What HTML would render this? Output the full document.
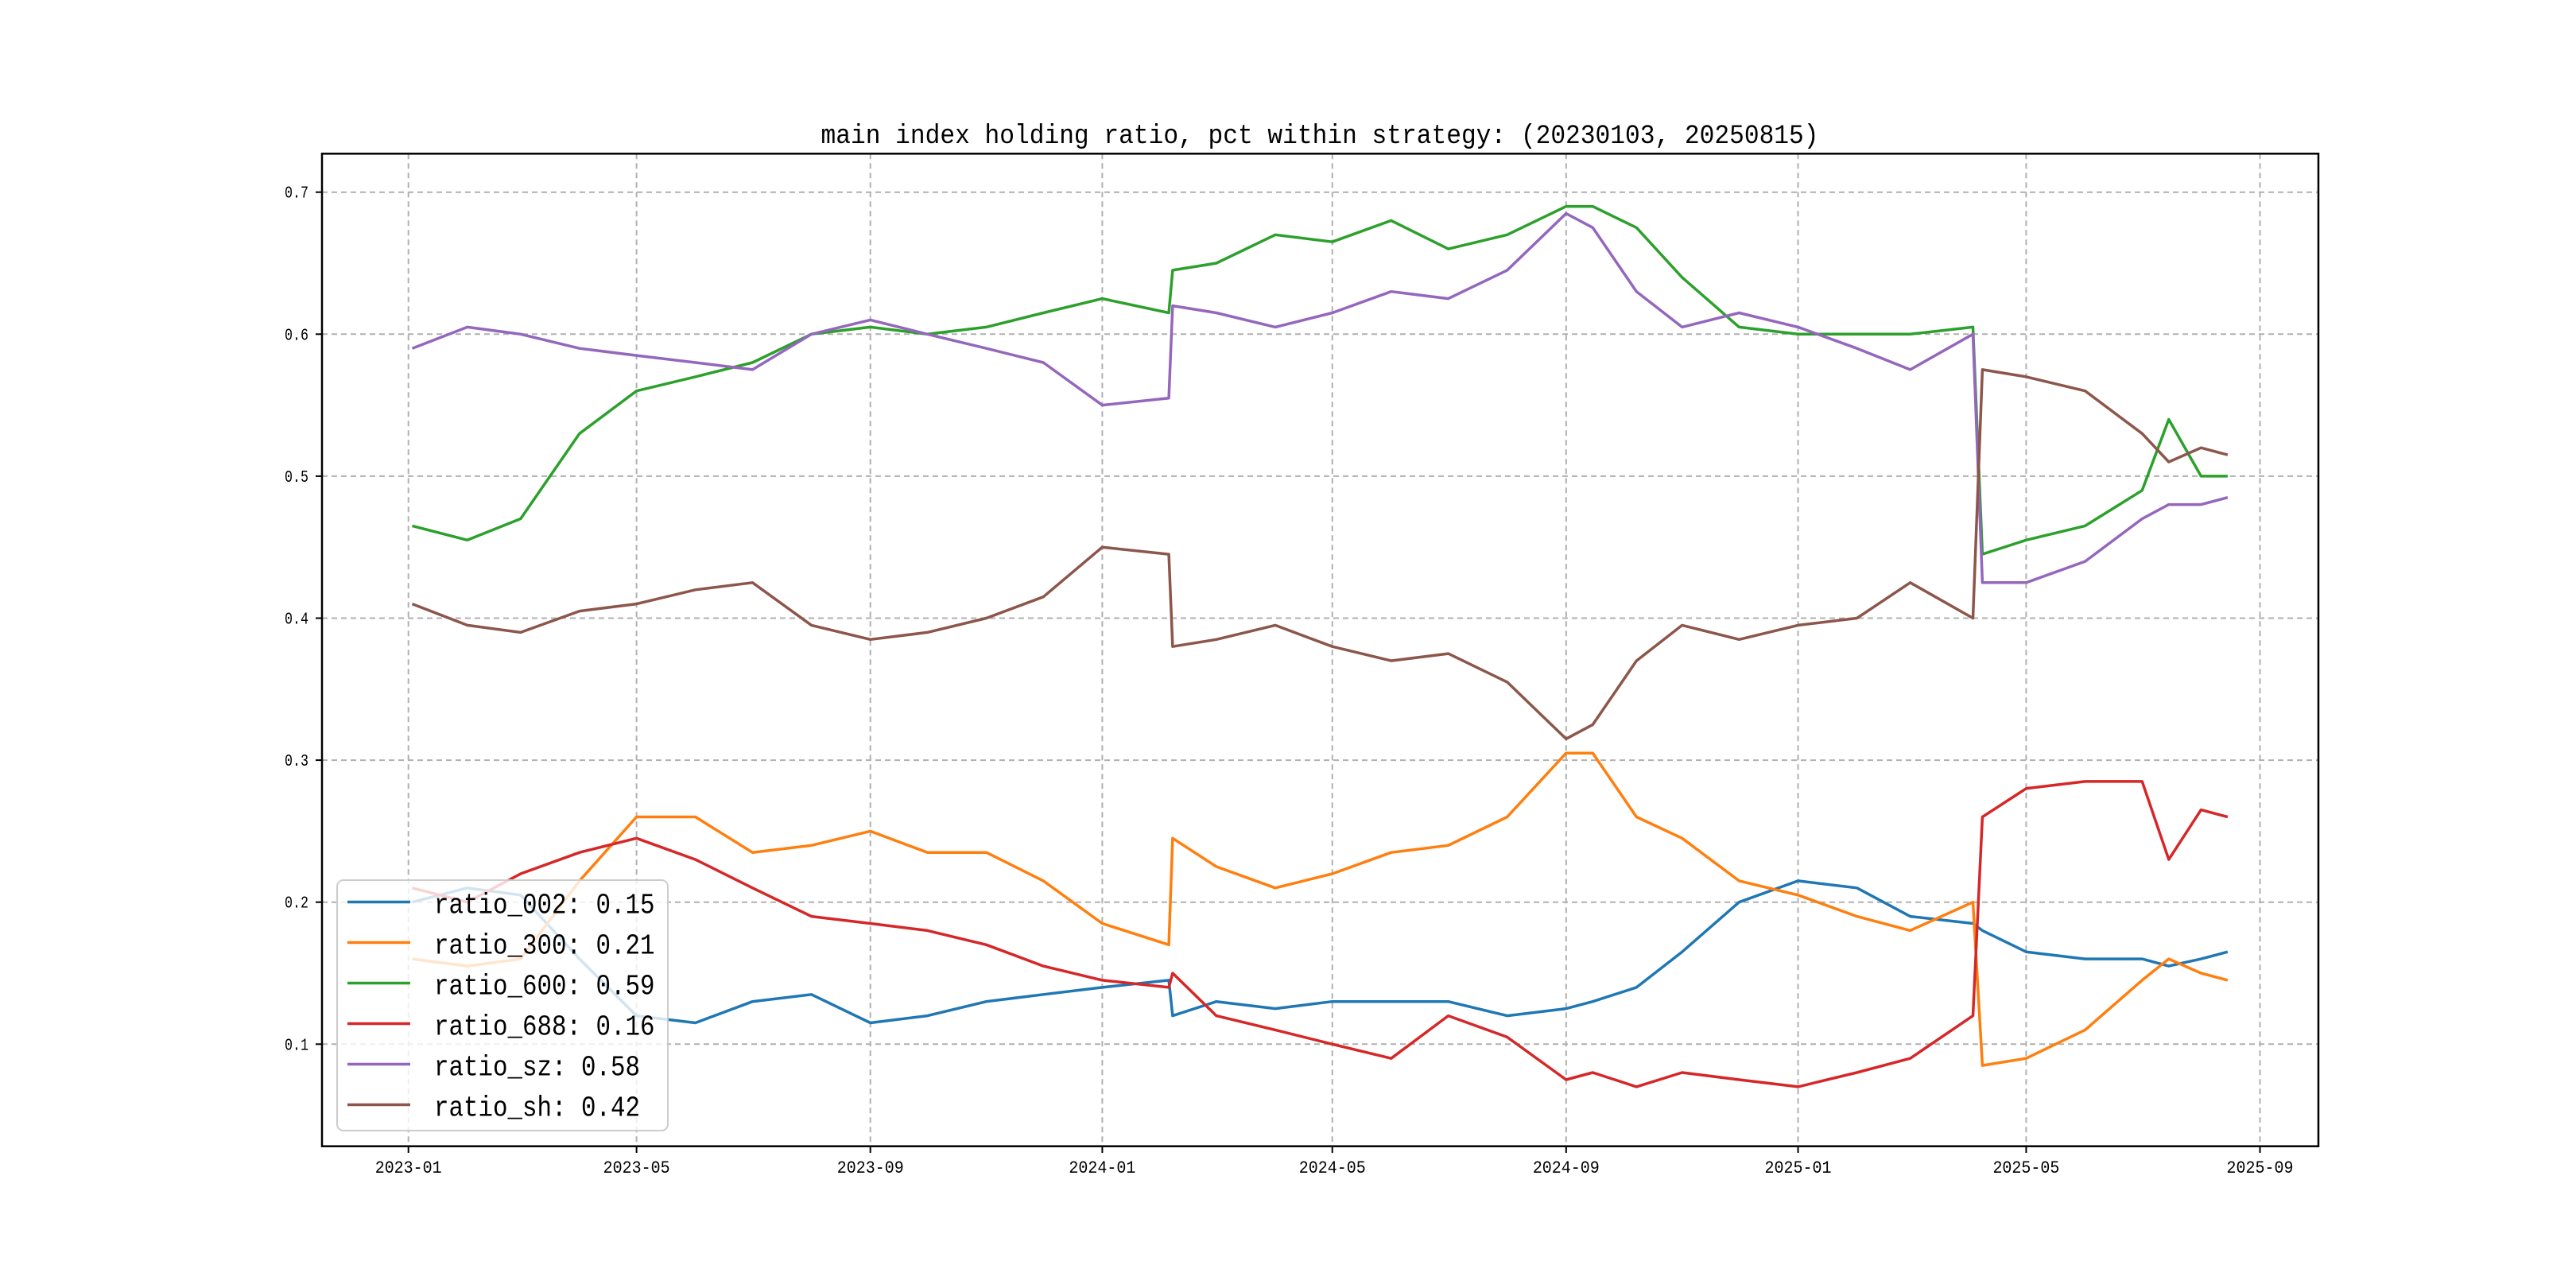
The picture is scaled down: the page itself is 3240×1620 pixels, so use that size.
<!DOCTYPE html>
<html><head><meta charset="utf-8">
<style>
html,body{margin:0;padding:0;background:#fff;}
svg{display:block;}
text{font-family:"Liberation Mono","DejaVu Sans Mono",monospace;}
</style></head>
<body>
<svg id="chart" width="3240" height="1620" viewBox="0 0 3240 1620" xmlns="http://www.w3.org/2000/svg">
<rect x="0" y="0" width="3240" height="1620" fill="#fff"/>
<text x="1660" y="180" text-anchor="middle" font-size="34" textLength="1255" lengthAdjust="spacingAndGlyphs">main index holding ratio, pct within strategy: (20230103, 20250815)</text>
<g id="grid"></g>
<g id="series"></g>
<rect x="405" y="193.3" width="2511" height="1248.4" fill="none" stroke="#000" stroke-width="2.5"/>
<g id="ticks"></g>
<g id="legend"></g>
</svg>
<script>
const dates = ["2023-01-03","2023-02-01","2023-03-01","2023-04-01","2023-05-01","2023-06-01","2023-07-01","2023-08-01","2023-09-01","2023-10-01","2023-11-01","2023-12-01","2024-01-01","2024-02-05","2024-02-07","2024-03-01","2024-04-01","2024-05-01","2024-06-01","2024-07-01","2024-08-01","2024-09-01","2024-09-15","2024-10-08","2024-11-01","2024-12-01","2025-01-01","2025-02-01","2025-03-01","2025-04-03","2025-04-08","2025-05-01","2025-06-01","2025-07-01","2025-07-15","2025-08-01","2025-08-15"];
const ratio002 = [0.20,0.21,0.205,0.16,0.12,0.115,0.13,0.135,0.115,0.12,0.13,0.135,0.14,0.145,0.12,0.13,0.125,0.13,0.13,0.13,0.12,0.125,0.13,0.14,0.165,0.20,0.215,0.21,0.19,0.185,0.18,0.165,0.16,0.16,0.155,0.16,0.165];
const ratio300 = [0.16,0.155,0.16,0.215,0.26,0.26,0.235,0.24,0.25,0.235,0.235,0.215,0.185,0.17,0.245,0.225,0.21,0.22,0.235,0.24,0.26,0.305,0.305,0.26,0.245,0.215,0.205,0.19,0.18,0.20,0.085,0.09,0.11,0.145,0.16,0.15,0.145];
const ratio600 = [0.465,0.455,0.47,0.53,0.56,0.57,0.58,0.60,0.605,0.60,0.605,0.615,0.625,0.615,0.645,0.65,0.67,0.665,0.68,0.66,0.67,0.69,0.69,0.675,0.64,0.605,0.60,0.60,0.60,0.605,0.445,0.455,0.465,0.49,0.54,0.50,0.50];
const ratio688 = [0.21,0.20,0.22,0.235,0.245,0.23,0.21,0.19,0.185,0.18,0.17,0.155,0.145,0.14,0.15,0.12,0.11,0.10,0.09,0.12,0.105,0.075,0.08,0.07,0.08,0.075,0.07,0.08,0.09,0.12,0.26,0.28,0.285,0.285,0.23,0.265,0.26];
const ratioSz = [0.59,0.605,0.60,0.59,0.585,0.58,0.575,0.60,0.61,0.60,0.59,0.58,0.55,0.555,0.62,0.615,0.605,0.615,0.63,0.625,0.645,0.685,0.675,0.63,0.605,0.615,0.605,0.59,0.575,0.60,0.425,0.425,0.44,0.47,0.48,0.48,0.485];
const ratioSh = [0.41,0.395,0.39,0.405,0.41,0.42,0.425,0.395,0.385,0.39,0.40,0.415,0.45,0.445,0.38,0.385,0.395,0.38,0.37,0.375,0.355,0.315,0.325,0.37,0.395,0.385,0.395,0.40,0.425,0.40,0.575,0.57,0.56,0.53,0.51,0.52,0.515];
const seriesNames = ["ratio_002","ratio_300","ratio_600","ratio_688","ratio_sz","ratio_sh"];
const legendValues = ["0.15","0.21","0.59","0.16","0.58","0.42"];
const yTicks = [0.1,0.2,0.3,0.4,0.5,0.6,0.7];
const xTicks = ["2023-01","2023-05","2023-09","2024-01","2024-05","2024-09","2025-01","2025-05","2025-09"];

const NS="http://www.w3.org/2000/svg";
const colors=["#1f77b4","#ff7f0e","#2ca02c","#d62728","#9467bd","#8c564b"];
const allSeries=[ratio002,ratio300,ratio600,ratio688,ratioSz,ratioSh];
const X0=Date.UTC(2023,0,1), PXD=2.391, XL=513.7;
function xs(d){const p=d.split("-").map(Number);const t=Date.UTC(p[0],p[1]-1,p[2]||1);return XL+(t-X0)/86400000*PXD;}
function ys(v){return 241.7+(0.7-v)*1786;}
function mk(tag,attrs,parent){const e=document.createElementNS(NS,tag);for(const k in attrs)e.setAttribute(k,attrs[k]);parent.appendChild(e);return e;}
const grid=document.getElementById("grid"),ticks=document.getElementById("ticks"),ser=document.getElementById("series"),leg=document.getElementById("legend");
yTicks.forEach(v=>{
  const y=ys(v);
  const g=mk("line",{x1:405,x2:2916,y1:y,y2:y,stroke:"#b0b0b0","stroke-width":2,"stroke-dasharray":"7,5"},grid);
  
  
  const t=mk("line",{x1:397,x2:405,y1:y,y2:y,stroke:"#000","stroke-width":2},ticks);
  
  
  const l=mk("text",{x:388,y:y+7,"text-anchor":"end","font-size":21,textLength:30,lengthAdjust:"spacingAndGlyphs"},ticks);
  
  
  l.textContent=v.toFixed(1);
});
xTicks.forEach(d=>{
  const x=xs(d);
  const g=mk("line",{x1:x,x2:x,y1:193.3,y2:1441.7,stroke:"#b0b0b0","stroke-width":2,"stroke-dasharray":"7,5"},grid);
  
  
  const t=mk("line",{x1:x,x2:x,y1:1441.7,y2:1450,stroke:"#000","stroke-width":2},ticks);
  
  
  const l=mk("text",{x:x,y:1475,"text-anchor":"middle","font-size":22,textLength:84,lengthAdjust:"spacingAndGlyphs"},ticks);
  
  
  l.textContent=d;
});
allSeries.forEach((s,i)=>{
  const pts=s.map((v,j)=>xs(dates[j]).toFixed(1)+","+ys(v).toFixed(1)).join(" ");
  const p=mk("polyline",{points:pts,fill:"none",stroke:colors[i],"stroke-width":3.5,"stroke-linejoin":"round"},ser);
  
  
});
const box=mk("rect",{x:424,y:1107,width:416,height:315,rx:8,fill:"#fff","fill-opacity":0.8,stroke:"#cccccc","stroke-width":2},leg);


seriesNames.forEach((n,i)=>{
  const y=1134.5+i*51;
  const ln=mk("line",{x1:437,x2:516,y1:y,y2:y,stroke:colors[i],"stroke-width":3.5},leg);
  
  
  const label=n+": "+legendValues[i];
  const t=mk("text",{x:546,y:y+14,"font-size":36,textLength:(label.length*18.5),lengthAdjust:"spacingAndGlyphs"},leg);
  
  
  t.textContent=label;
});
</script>
</body></html>
